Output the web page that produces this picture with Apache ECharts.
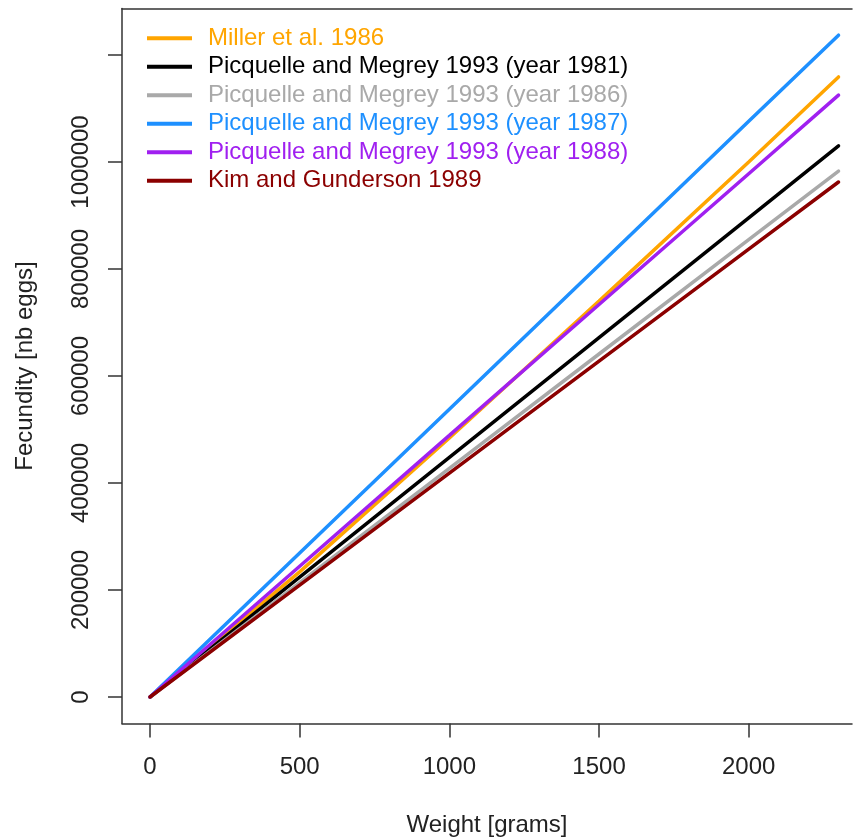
<!DOCTYPE html>
<html>
<head>
<meta charset="utf-8">
<script src="https://cdn.jsdelivr.net/npm/echarts@6/dist/echarts.min.js"></script>
<style>
    * { margin: 0; padding: 0; }
    #chart { width: 854px; height: 839px; }
</style>
</head>
<body>
<div id="chart"></div>
<script>
    var weights = [0, 500, 1000, 1500, 2000, 2300];

    var seriesNames = [
        'Miller et al. 1986',
        'Picquelle and Megrey 1993 (year 1981)',
        'Picquelle and Megrey 1993 (year 1986)',
        'Picquelle and Megrey 1993 (year 1987)',
        'Picquelle and Megrey 1993 (year 1988)',
        'Kim and Gunderson 1989'
    ];
    var seriesColors = ['#FFA500', '#000000', '#A9A9A9', '#1E90FF', '#A020F0', '#8B0000'];

    // fecundity (nb eggs) at each weight
    var miller1986 = [0, 234000, 484000, 740000, 1000000, 1159000];
    var pm1981 = [0, 223900, 447800, 671700, 895600, 1030000];
    var pm1986 = [0, 213700, 427400, 641100, 854800, 983000];
    var pm1987 = [0, 269000, 538000, 807000, 1076000, 1237000];
    var pm1988 = [0, 244500, 489000, 733700, 978000, 1125000];
    var kim1989 = [0, 209300, 418500, 627800, 837000, 962600];
    var seriesValues = [miller1986, pm1981, pm1986, pm1987, pm1988, kim1989];

    // tick labels
    var xTicks = [0, 500, 1000, 1500, 2000];
    var yTicks = [0, 200000, 400000, 600000, 800000, 1000000, 1200000];
    var yLabels = [0, 200000, 400000, 600000, 800000, 1000000];

    var font = '"Liberation Sans", Arial, sans-serif';
    var frame = { show: true, onZero: false, lineStyle: { color: '#333', width: 1.5 } };

    var series = seriesNames.map(function (name, i) {
        return {
            name: name,
            type: 'line',
            symbol: 'none',
            silent: true,
            color: seriesColors[i],
            lineStyle: { width: 3.5, color: seriesColors[i], cap: 'round' },
            data: weights.map(function (w, j) { return [w, seriesValues[i][j]]; })
        };
    });

    var option = {
        backgroundColor: '#fff',
        animation: false,
        grid: {
            left: 122,
            top: 8.5,
            right: 2,
            height: 715,
            containLabel: false,
            outerBoundsMode: 'none'
        },
        legend: {
            orient: 'vertical',
            left: 142,
            top: 19,
            icon: 'rect',
            itemWidth: 45,
            itemHeight: 4,
            itemGap: 0,
            selectedMode: false,
            textStyle: { fontFamily: font, fontSize: 24, lineHeight: 28.5, padding: [0, 0, 0, 11] },
            data: seriesNames.map(function (name, i) {
                return { name: name, textStyle: { color: seriesColors[i] } };
            })
        },
        xAxis: [{
            type: 'value',
            min: -93.5,
            max: 2345,
            name: 'Weight [grams]',
            nameLocation: 'middle',
            nameGap: 90,
            nameTextStyle: { fontFamily: font, fontSize: 24, color: '#222' },
            axisLine: frame,
            axisTick: { show: true, length: 14, lineStyle: { color: '#333', width: 1.5 }, customValues: xTicks },
            axisLabel: { margin: 32, fontFamily: font, fontSize: 24, color: '#222', customValues: xTicks,
                formatter: function (v) { return String(v); } },
            splitLine: { show: false }
        }, {
            // top edge of the frame only
            type: 'value',
            position: 'top',
            min: -93.5,
            max: 2345,
            axisLine: frame,
            axisTick: { show: false },
            axisLabel: { show: false },
            splitLine: { show: false }
        }],
        yAxis: {
            type: 'value',
            min: -49500,
            max: 1286900,
            name: 'Fecundity [nb eggs]',
            nameLocation: 'middle',
            nameGap: 85,
            nameTextStyle: { fontFamily: font, fontSize: 24, color: '#222' },
            axisLine: frame,
            axisTick: { show: true, length: 14, lineStyle: { color: '#333', width: 1.5 }, customValues: yTicks },
            axisLabel: { margin: 29, rotate: 90, fontFamily: font, fontSize: 24, color: '#222', customValues: yLabels,
                formatter: function (v) { return String(v); } },
            splitLine: { show: false }
        },
        series: series
    };

    var myChart = echarts.init(document.getElementById('chart'));
    myChart.setOption(option);
</script>
</body>
</html>
